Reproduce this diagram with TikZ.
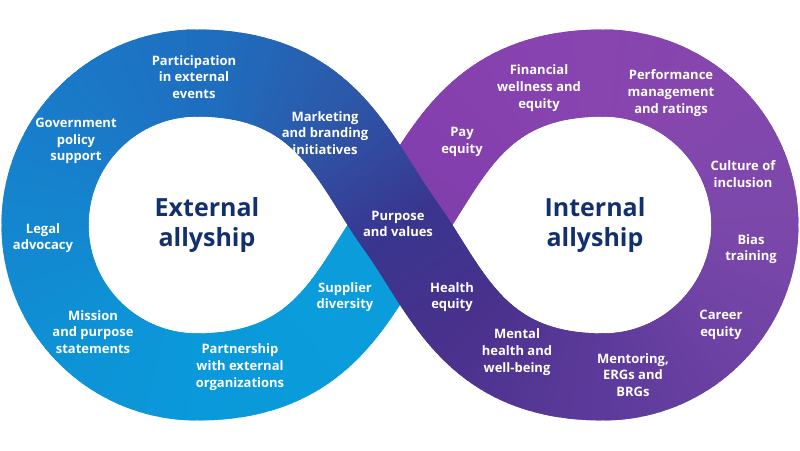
\documentclass[tikz,border=0pt]{standalone}
\usepackage{fontspec}
\setmainfont{Open Sans}
\usetikzlibrary{calc}
\definecolor{navy}{HTML}{13306E}
% colours along the band
\definecolor{uR0}{HTML}{7E3EAB}
\definecolor{uRm}{HTML}{8540AE}
\definecolor{pTop}{HTML}{8844AF}
\definecolor{pTR}{HTML}{8447AD}
\definecolor{pRight}{HTML}{7B48AA}
\definecolor{pBR}{HTML}{6D42A4}
\definecolor{pBot}{HTML}{5C3A9B}
\definecolor{oRm}{HTML}{49318C}
\definecolor{cross}{HTML}{39358F}
\definecolor{oLm}{HTML}{2D57A8}
\definecolor{bTop}{HTML}{1E6FC0}
\definecolor{bTL}{HTML}{1A7AC8}
\definecolor{bLeft}{HTML}{1486CF}
\definecolor{bBL}{HTML}{0E92D6}
\definecolor{bBot}{HTML}{0A99DA}
\definecolor{lb}{HTML}{0A9CDB}
\def\nseg{40}
\newcommand\bandpiece[7]{%
  \pgfmathtruncatemacro\nlast{\nseg+1}%
  \foreach \k in {0,...,\nlast}{%
    \pgfmathsetmacro\tpar{\k/\nseg}%
    \pgfmathsetmacro\ca{(1-\tpar)^3}%
    \pgfmathsetmacro\cb{3*(1-\tpar)^2*\tpar}%
    \pgfmathsetmacro\cc{3*(1-\tpar)*\tpar^2}%
    \pgfmathsetmacro\cd{\tpar^3}%
    \coordinate (z\k) at ($\ca*(#1)+\cb*(#2)+\cc*(#3)+\cd*(#4)$);
  }%
  \foreach \k in {1,...,\nseg}{%
    \pgfmathtruncatemacro\j{\k-1}%
    \pgfmathtruncatemacro\l{\k+1}%
    \pgfmathsetmacro\tm{(\k-0.5)/\nseg}%
    \ifdim\tm pt<0.5pt
      \pgfmathsetmacro\pc{200*\tm}%
      \colorlet{segc}{#6!\pc!#5}%
    \else
      \pgfmathsetmacro\pc{200*(\tm-0.5)}%
      \colorlet{segc}{#7!\pc!#6}%
    \fi
    \draw[band, segc] (z\j) -- (z\k) -- (z\l);
  }%
}
\tikzset{
  band/.style={line width=87pt, line cap=butt, line join=round},
  lab/.style={text=white, font=\bfseries\fontsize{13}{16.7}\selectfont, align=center, inner sep=0pt},
  ttl/.style={text=navy, font=\bfseries\fontsize{25}{30}\selectfont, align=center, inner sep=0pt}
}
\begin{document}
\begin{tikzpicture}[x=1pt,y=-1pt]
\useasboundingbox (0,0) rectangle (800,450);
% key points of the centre line
\coordinate (C) at (400,225);
% left loop
\coordinate (LT) at (197,73);
\coordinate (LL) at (45,225);
\coordinate (LB) at (197,377);
% right loop
\coordinate (RT) at (603,73);
\coordinate (RR) at (755,225);
\coordinate (RB) at (603,377);
% control points
\coordinate (uR1) at (447,160); \coordinate (uR2) at (473,73);
\coordinate (uL1) at (327,377); \coordinate (uL2) at (353,290);
\coordinate (oR1) at (473,377); \coordinate (oR2) at (447,290);
\coordinate (oL1) at (353,160); \coordinate (oL2) at (327,73);
\coordinate (rq1) at (687,73);  \coordinate (rq2) at (755,141);
\coordinate (rq3) at (755,309); \coordinate (rq4) at (687,377);
\coordinate (lq1) at (113,73);  \coordinate (lq2) at (45,141);
\coordinate (lq3) at (45,309);  \coordinate (lq4) at (113,377);
% under band
\bandpiece{LB}{uL1}{uL2}{C}{bBot}{lb}{lb}
\bandpiece{C}{uR1}{uR2}{RT}{uR0}{uRm}{pTop}
% loops
\bandpiece{RT}{rq1}{rq2}{RR}{pTop}{pTR}{pRight}
\bandpiece{RR}{rq3}{rq4}{RB}{pRight}{pBR}{pBot}
\bandpiece{LT}{lq1}{lq2}{LL}{bTop}{bTL}{bLeft}
\bandpiece{LL}{lq3}{lq4}{LB}{bLeft}{bBL}{bBot}
% over band
\bandpiece{RB}{oR1}{oR2}{C}{pBot}{oRm}{cross}
\bandpiece{C}{oL1}{oL2}{LT}{cross}{oLm}{bTop}
% titles
\node[ttl] (ext) at (207,225) {External\\allyship};
\node[ttl] (int) at (595,225) {Internal\\allyship};
% labels
\node[lab] (l1) at (194,77) {Participation\\in external\\events};
\node[lab] (l2) at (76,141) {Government\\policy\\support};
\node[lab] (l3) at (325,133) {Marketing\\and branding\\initiatives};
\node[lab] (l4) at (43,238) {Legal\\advocacy};
\node[lab] (l5) at (93,332) {Mission\\and purpose\\statements};
\node[lab] (l6) at (240,367) {Partnership\\with external\\organizations};
\node[lab] (l7) at (345,297) {Supplier\\diversity};
\node[lab] (l8) at (398,224) {Purpose\\and values};
\node[lab] (r1) at (462,142) {Pay\\equity};
\node[lab] (r2) at (539,88) {Financial\\wellness and\\equity};
\node[lab] (r3) at (671,93) {Performance\\management\\and ratings};
\node[lab] (r4) at (743,174) {Culture of\\inclusion};
\node[lab] (r5) at (751,249) {Bias\\training};
\node[lab] (r6) at (721,325) {Career\\equity};
\node[lab] (r7) at (633,375) {Mentoring,\\ERGs and\\BRGs};
\node[lab] (r8) at (517,352) {Mental\\health and\\well-being};
\node[lab] (r9) at (452,297) {Health\\equity};
\end{tikzpicture}
\end{document}
